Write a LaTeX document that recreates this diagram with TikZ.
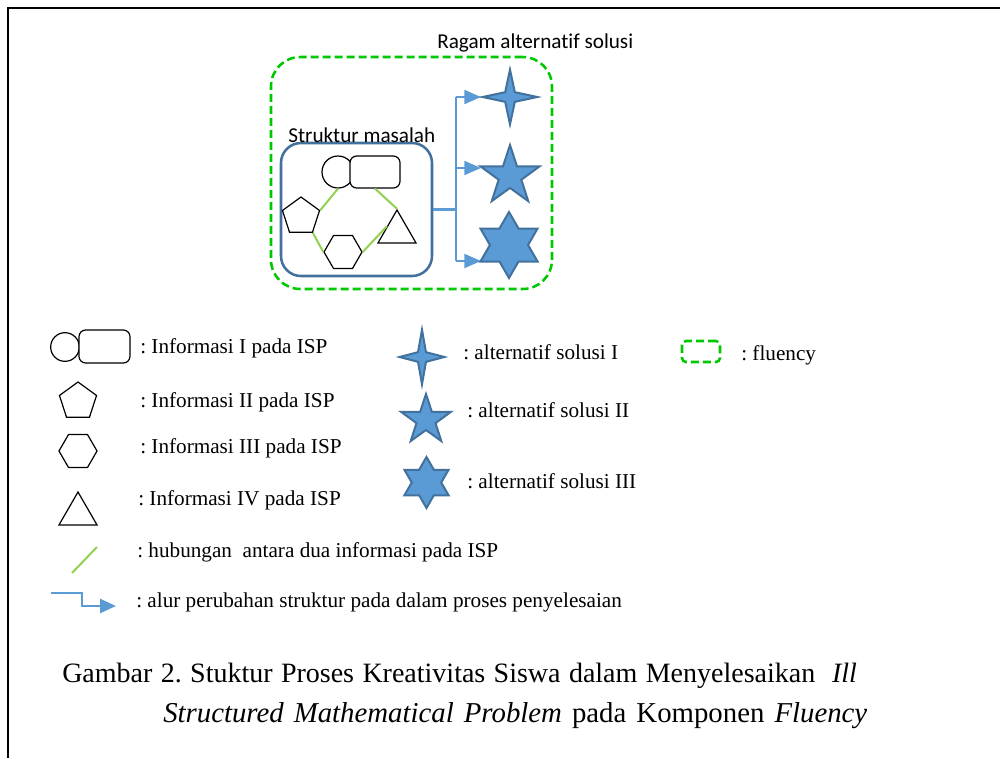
\documentclass[tikz,border=0pt]{standalone}
\usepackage{fontspec}
\setmainfont{Liberation Serif}
\newfontfamily\calibri[Ligatures=NoCommon]{Carlito}
\usetikzlibrary{shapes.geometric,arrows.meta,calc}
\definecolor{solfill}{RGB}{91,155,213}
\definecolor{soledge}{RGB}{65,113,156}
\definecolor{flugreen}{RGB}{0,200,0}
\definecolor{linkgreen}{RGB}{146,208,80}
\definecolor{flowblue}{RGB}{91,155,213}
\definecolor{boxblue}{RGB}{65,113,156}
\frenchspacing
\begin{document}
\begin{tikzpicture}[x=0.75pt,y=-0.75pt,
  info/.style={draw=black, line width=0.9pt, inner sep=0pt, fill=white},
  infocirc/.style={info, circle},
  inforect/.style={info, rectangle, rounded corners=5pt},
  infopoly/.style={info, regular polygon},
  link/.style={draw=linkgreen, line width=1.5pt},
  sol/.style={star, draw=soledge, fill=solfill, line width=1.5pt, inner sep=0pt},
  flu/.style={draw=flugreen, line width=1.9pt, dash pattern=on 6pt off 3pt, rounded corners=22pt},
  flow/.style={draw=flowblue, line width=1.5pt},
  flowarrow/.style={flow, -{Triangle[length=12.5pt,width=10.5pt]}},
  lbl/.style={anchor=base west, inner sep=0pt, font=\fontsize{15.9}{18}\selectfont},
  sanslbl/.style={anchor=base west, inner sep=0pt, font=\calibri\fontsize{15.9}{18}\selectfont},
  captext/.style={anchor=base west, inner sep=0pt, font=\fontsize{21}{24}\selectfont}
]
\useasboundingbox (0,0) rectangle (1000,758);
% outer frame
\draw[line width=1.2pt] (8,758) -- (8,8) -- (1000,8);

% fluency box
\node[flu, draw, minimum width=210.75pt, minimum height=174pt, inner sep=0pt] (flu) at (411.5,173) {};
\node[sanslbl] (ragam) at (437,48) {Ragam alternatif solusi};

% structure box
\node[draw=boxblue, line width=1.9pt, rounded corners=15pt, minimum width=113.25pt, minimum height=99.75pt, inner sep=0pt] (sm) at (356.5,209.5) {};
\node[sanslbl] (smlbl) at (288,142) {Struktur masalah};

% information shapes
\node[infocirc, minimum size=24pt] (c1) at (338,172) {};
\node[inforect, minimum width=37.5pt, minimum height=24pt] (r1) at (375,172) {};
\node[infopoly, regular polygon sides=5, minimum size=29.25pt] (p1) at (301,216.5) {};
\node[infopoly, regular polygon sides=6, minimum size=28.5pt] (h1) at (343,252) {};
\node[infopoly, regular polygon sides=3, minimum size=33pt] (t1) at (397,232) {};

\draw[link] (c1.south) -- (p1.corner 5);
\draw[link] (p1.corner 4) -- (h1.corner 3);
\draw[link] (r1.south) -- (t1.corner 1);
\draw[link] ($(t1.corner 1)!0.5!(t1.corner 2)$) -- (h1.corner 6);

% flow connector
\coordinate (jm) at (456,209.5);
\coordinate (j1) at (456,97);
\coordinate (j2) at (456,168);
\coordinate (j3) at (456,261);
\coordinate (e1) at (481,97);
\coordinate (e2) at (481,168);
\coordinate (e3) at (481,261);
\draw[flow, line width=2.4pt] (sm.east) -- (jm);
\draw[flow] (j1) -- (j3);
\draw[flowarrow] (j1) -- (e1);
\draw[flowarrow] (j2) -- (e2);
\draw[flowarrow] (j3) -- (e3);

% solution stars
\node[sol, star points=4, star point ratio=4, minimum size=41pt] (s1) at (510,97) {};
\node[sol, star points=5, star point ratio=2.6, minimum size=46.5pt] (s2) at (510,176) {};
\node[sol, star points=6, star point ratio=1.732, minimum size=49.5pt] (s3) at (509,245) {};

% ---------------- legend ----------------
\node[infocirc, minimum size=21.5pt] (lc) at (65,347) {};
\node[inforect, minimum width=38.25pt, minimum height=24.75pt] (lr) at (104.5,346.5) {};
\node[lbl] (t1lbl) at (140,353) {: Informasi I pada ISP};

\node[infopoly, regular polygon sides=5, minimum size=29.25pt] (lp) at (78,401.5) {};
\node[lbl] (t2lbl) at (140,407) {: Informasi II pada ISP};

\node[infopoly, regular polygon sides=6, minimum size=28.5pt] (lh) at (78,451) {};
\node[lbl] (t3lbl) at (140,453) {: Informasi III pada ISP};

\node[infopoly, regular polygon sides=3, minimum size=33pt] (lt) at (78,514) {};
\node[lbl] (t4lbl) at (138,505) {: Informasi IV pada ISP};

\coordinate (lg1) at (72,573);
\coordinate (lg2) at (97,547);
\draw[link] (lg1) -- (lg2);
\node[lbl] (t5lbl) at (137,557) {: hubungan\ \ antara dua informasi pada ISP};

\coordinate (lf1) at (51,593);
\coordinate (lf2) at (116,606);
\draw[flow, line width=2pt, -{Triangle[length=12pt,width=10.5pt]}] (lf1) -- (82,593) -- (82,606) -- (lf2);
\node[lbl] (t6lbl) at (136,607) {: alur perubahan struktur pada dalam proses penyelesaian};

\node[sol, star points=4, star point ratio=4, minimum size=41pt, xscale=0.82] (ls1) at (422,357) {};
\node[lbl] (t7lbl) at (463,359) {: alternatif solusi I};

\node[sol, star points=5, star point ratio=2.6, minimum size=39pt] (ls2) at (426,420) {};
\node[lbl] (t8lbl) at (467,417) {: alternatif solusi II};

\node[sol, star points=6, star point ratio=1.732, minimum size=38.25pt] (ls3) at (426.5,482.5) {};
\node[lbl] (t9lbl) at (467,488) {: alternatif solusi III};

\node[draw=flugreen, line width=1.9pt, dash pattern=on 6pt off 3pt, rounded corners=3pt, minimum width=28.5pt, minimum height=15.75pt, inner sep=0pt] (lflu) at (701,351.5) {};
\node[lbl] (t10lbl) at (741,360) {: fluency};

% caption
\node[captext] (cap1) at (62,682) {\hbox to 596pt{Gambar 2. Stuktur Proses Kreativitas Siswa dalam Menyelesaikan\ \ \textit{Ill}}};
\node[captext, font=\fontsize{21.6}{24}\selectfont] (cap2) at (163,722) {\hbox to 528pt{\textit{Structured Mathematical Problem} pada Komponen \textit{Fluency}}};
\end{tikzpicture}
\end{document}
